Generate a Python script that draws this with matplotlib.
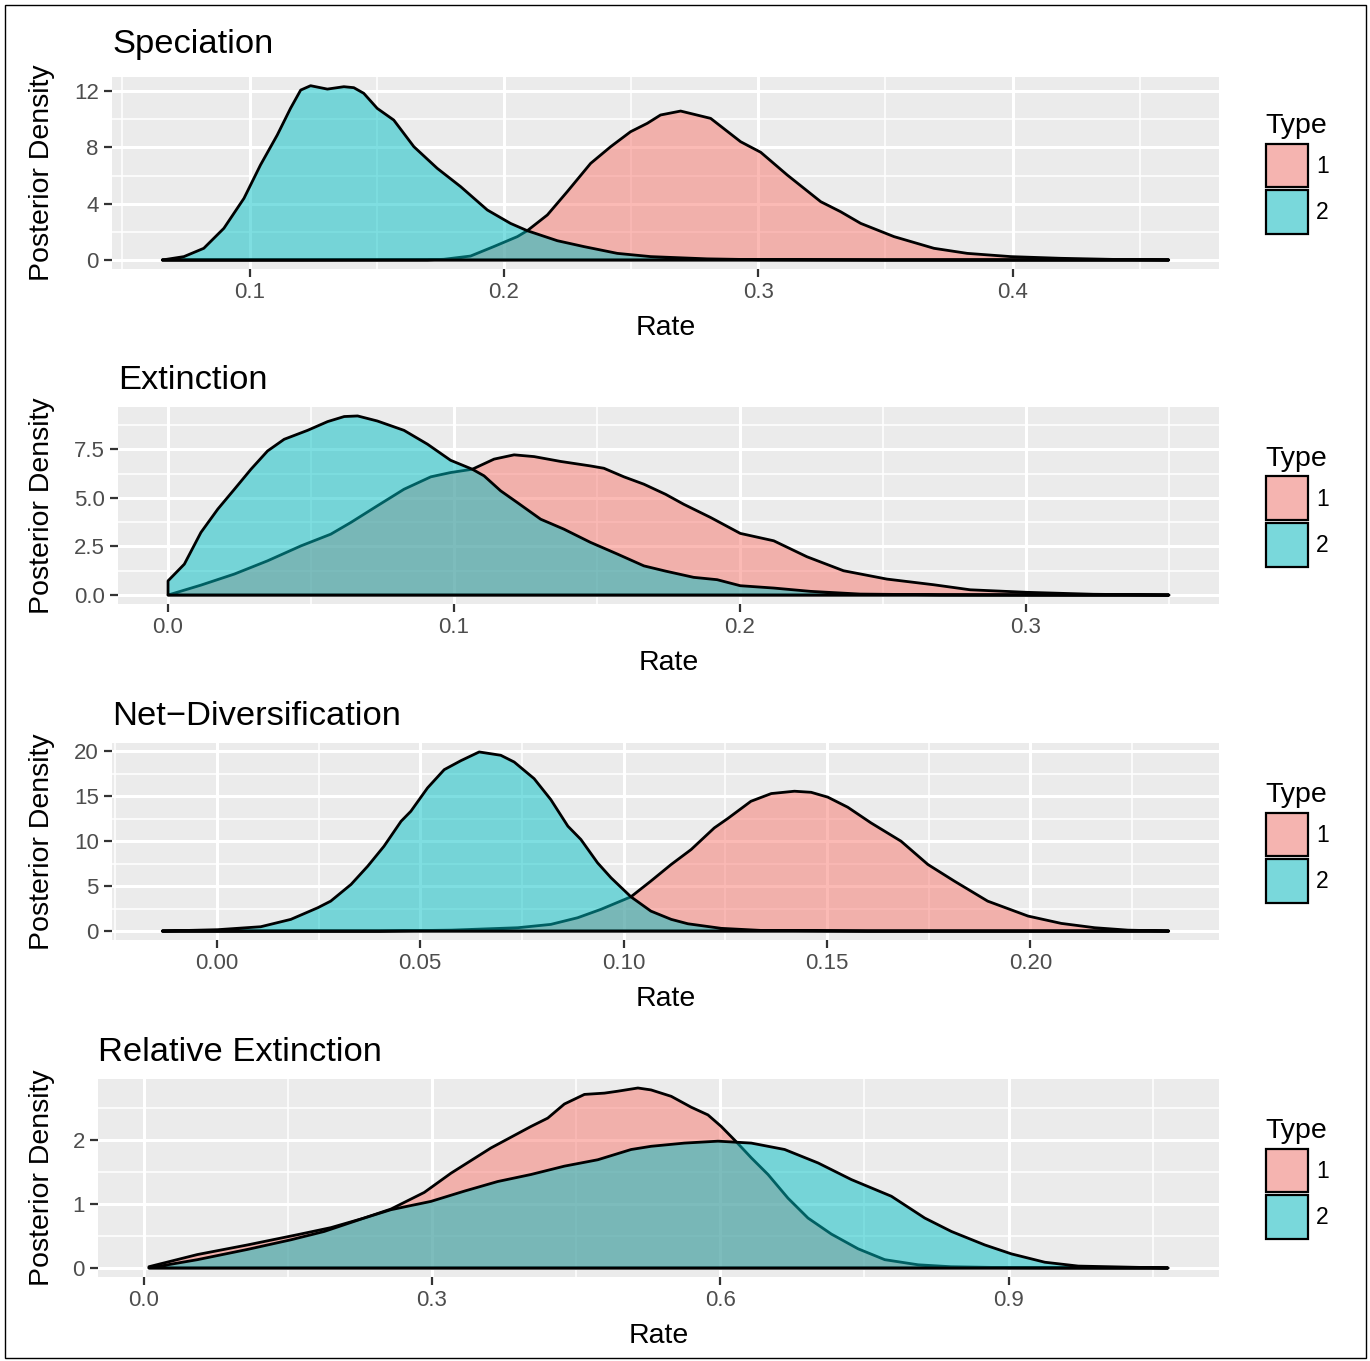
import matplotlib
matplotlib.use('Agg')
import matplotlib.pyplot as plt
from matplotlib.patches import Rectangle
from matplotlib.colors import to_rgba

plt.rcParams['font.family'] = ['Liberation Sans', 'DejaVu Sans']

# ---------------- data ----------------
titles = ["Speciation", "Extinction", "Net\u2212Diversification", "Relative Extinction"]
type_labels = ["1", "2"]

# Speciation
spec_x1 = [0.0657, 0.12, 0.17, 0.1764, 0.1869, 0.196, 0.2053, 0.2092, 0.2171, 0.2249, 0.2341, 0.242,
           0.2498, 0.2564, 0.2616, 0.2695, 0.2813, 0.2931, 0.301, 0.3114, 0.3246, 0.3324, 0.3403,
           0.3534, 0.3691, 0.3822, 0.3993, 0.4189, 0.44, 0.4614]
spec_y1 = [0, 0, 0.01, 0.05, 0.28, 0.95, 1.66, 2.08, 3.2, 4.85, 6.86, 8.05, 9.11, 9.71, 10.3, 10.58,
           10.06, 8.4, 7.65, 6.04, 4.14, 3.43, 2.60, 1.66, 0.83, 0.47, 0.24, 0.12, 0.04, 0]
spec_x2 = [0.0657, 0.0742, 0.082, 0.0899, 0.0978, 0.1043, 0.1109, 0.1161, 0.1201, 0.124, 0.1306,
           0.1371, 0.141, 0.1449, 0.1502, 0.1567, 0.1646, 0.1738, 0.183, 0.1935, 0.2026, 0.2092,
           0.221, 0.2315, 0.2446, 0.2577, 0.28, 0.30, 0.35, 0.4614]
spec_y2 = [0, 0.24, 0.83, 2.25, 4.38, 6.75, 8.88, 10.77, 12.07, 12.38, 12.14, 12.31, 12.24, 11.84,
           10.77, 9.94, 8.05, 6.51, 5.21, 3.55, 2.60, 2.08, 1.37, 0.95, 0.47, 0.24, 0.08, 0.02, 0.0, 0]

# Extinction
ext_x1 = [0.0, 0.0115, 0.0232, 0.0348, 0.0465, 0.0569, 0.0639, 0.0732, 0.0825, 0.0919, 0.0988,
          0.1064, 0.114, 0.121, 0.128, 0.1373, 0.1477, 0.1524, 0.1594, 0.1664, 0.1740, 0.1803,
          0.1897, 0.2001, 0.2118, 0.2234, 0.2362, 0.2514, 0.2677, 0.2805, 0.3003, 0.3235, 0.35]
ext_y1 = [0.0, 0.51, 1.08, 1.76, 2.53, 3.13, 3.73, 4.59, 5.44, 6.08, 6.30, 6.47, 6.99, 7.21, 7.12,
          6.87, 6.64, 6.52, 6.08, 5.70, 5.18, 4.67, 3.99, 3.17, 2.79, 1.97, 1.25, 0.82, 0.53, 0.27,
          0.14, 0.04, 0]
ext_x2 = [0.0, 0.0057, 0.0115, 0.0174, 0.0232, 0.029, 0.0348, 0.0406, 0.0488, 0.0558, 0.0616,
          0.0663, 0.0732, 0.0825, 0.0907, 0.0988, 0.1064, 0.1105, 0.1163, 0.1221, 0.1303, 0.1384,
          0.1477, 0.1571, 0.1664, 0.1740, 0.1838, 0.192, 0.2001, 0.2118, 0.2246, 0.242, 0.27, 0.35]
ext_y2 = [0.73, 1.59, 3.22, 4.42, 5.44, 6.47, 7.41, 8.01, 8.47, 8.92, 9.18, 9.21, 8.95, 8.47, 7.76,
          6.93, 6.47, 6.13, 5.36, 4.76, 3.90, 3.39, 2.71, 2.11, 1.50, 1.23, 0.91, 0.79, 0.48, 0.36,
          0.19, 0.05, 0.01, 0]

# Net-Diversification
net_x1 = [-0.0134, 0.04, 0.0576, 0.074, 0.0821, 0.0887, 0.0944, 0.1018, 0.1067, 0.1117, 0.1166,
          0.1223, 0.1256, 0.1313, 0.1363, 0.142, 0.1461, 0.1502, 0.1551, 0.1608, 0.1682, 0.1748,
          0.1813, 0.1895, 0.1994, 0.2076, 0.2158, 0.224, 0.234]
net_y1 = [0, 0.0, 0.1, 0.37, 0.74, 1.48, 2.41, 3.81, 5.56, 7.41, 9.07, 11.48, 12.52, 14.44, 15.3,
          15.56, 15.44, 14.9, 13.78, 12.04, 10.0, 7.41, 5.56, 3.33, 1.67, 0.85, 0.37, 0.1, 0]
net_x2 = [-0.0134, 0.0002, 0.0108, 0.0182, 0.0248, 0.028, 0.033, 0.0371, 0.0411, 0.0453, 0.0477,
          0.0518, 0.0559, 0.06, 0.0645, 0.0698, 0.0731, 0.078, 0.0821, 0.0863, 0.0895, 0.0936,
          0.0969, 0.1018, 0.1067, 0.1117, 0.1158, 0.124, 0.1338, 0.16, 0.234]
net_y2 = [0, 0.15, 0.48, 1.3, 2.59, 3.33, 5.19, 7.22, 9.44, 12.22, 13.33, 15.93, 17.96, 18.96, 19.93,
          19.56, 18.81, 16.96, 14.63, 11.67, 10.19, 7.59, 5.93, 3.81, 2.22, 1.30, 0.81, 0.3, 0.07,
          0.0, 0]

# Relative Extinction
rel_x1 = [0.0055, 0.0559, 0.108, 0.1601, 0.1948, 0.2295, 0.2573, 0.292, 0.3198, 0.3615, 0.4031,
          0.4205, 0.4378, 0.4587, 0.4795, 0.4934, 0.5143, 0.528, 0.549, 0.5698, 0.5872, 0.601,
          0.6167, 0.6323, 0.6497, 0.6705, 0.6913, 0.7156, 0.7434, 0.7712, 0.8059, 0.84, 0.9, 1.066]
rel_y1 = [0.02, 0.21, 0.36, 0.52, 0.63, 0.78, 0.92, 1.18, 1.48, 1.875, 2.21, 2.34, 2.56, 2.71, 2.73,
          2.76, 2.81, 2.78, 2.68, 2.51, 2.39, 2.21, 1.97, 1.72, 1.46, 1.09, 0.78, 0.53, 0.30, 0.13,
          0.05, 0.02, 0.005, 0]
rel_x2 = [0.0055, 0.0559, 0.108, 0.1531, 0.1878, 0.2295, 0.2573, 0.299, 0.3337, 0.3684, 0.4031,
          0.4378, 0.4726, 0.5073, 0.5281, 0.5628, 0.5976, 0.6323, 0.667, 0.7018, 0.7365, 0.7781,
          0.8128, 0.8406, 0.8753, 0.9031, 0.9378, 0.9726, 1.066]
rel_y2 = [0.0, 0.13, 0.29, 0.44, 0.57, 0.78, 0.91, 1.04, 1.20, 1.35, 1.46, 1.59, 1.69, 1.85, 1.90,
          1.95, 1.98, 1.95, 1.85, 1.64, 1.38, 1.12, 0.78, 0.57, 0.36, 0.22, 0.09, 0.03, 0]

# tick breaks and labels
spec_xt = [0.1, 0.2, 0.3, 0.4]; spec_xtl = ["0.1", "0.2", "0.3", "0.4"]
spec_xm = [0.05, 0.15, 0.25, 0.35, 0.45]
spec_yt = [0, 4, 8, 12]; spec_ytl = ["0", "4", "8", "12"]; spec_ym = [2, 6, 10]
ext_xt = [0.0, 0.1, 0.2, 0.3]; ext_xtl = ["0.0", "0.1", "0.2", "0.3"]
ext_xm = [0.05, 0.15, 0.25, 0.35]
ext_yt = [0, 2.5, 5.0, 7.5]; ext_ytl = ["0.0", "2.5", "5.0", "7.5"]; ext_ym = [1.25, 3.75, 6.25, 8.75]
net_xt = [0.0, 0.05, 0.10, 0.15, 0.20]; net_xtl = ["0.00", "0.05", "0.10", "0.15", "0.20"]
net_xm = [-0.025, 0.025, 0.075, 0.125, 0.175, 0.225]
net_yt = [0, 5, 10, 15, 20]; net_ytl = ["0", "5", "10", "15", "20"]; net_ym = [2.5, 7.5, 12.5, 17.5]
rel_xt = [0.0, 0.3, 0.6, 0.9]; rel_xtl = ["0.0", "0.3", "0.6", "0.9"]
rel_xm = [0.15, 0.45, 0.75, 1.05]
rel_yt = [0, 1, 2]; rel_ytl = ["0", "1", "2"]; rel_ym = [0.5, 1.5, 2.5]

# ---------------- layout / style ----------------
W, H = 1370, 1361
fig = plt.figure(figsize=(W / 100, H / 100), dpi=100)
fig.patch.set_facecolor('white')

def fx(px):
    return px / W

def fy(py):
    return 1 - py / H

COL1 = '#F8766D'
COL2 = '#00BFC4'
KEY1 = '#F5B4B0'
KEY2 = '#79D8DB'

panel_data = [
    (spec_x1, spec_y1, spec_x2, spec_y2, spec_xt, spec_xtl, spec_xm, spec_yt, spec_ytl, spec_ym),
    (ext_x1, ext_y1, ext_x2, ext_y2, ext_xt, ext_xtl, ext_xm, ext_yt, ext_ytl, ext_ym),
    (net_x1, net_y1, net_x2, net_y2, net_xt, net_xtl, net_xm, net_yt, net_ytl, net_ym),
    (rel_x1, rel_y1, rel_x2, rel_y2, rel_xt, rel_xtl, rel_xm, rel_yt, rel_ytl, rel_ym),
]
# panel boxes in pixels: left, top, right, bottom ; title baseline
boxes = [(112, 77, 1219, 268.7), (118, 407, 1219, 604), (112, 743, 1219, 940), (98, 1079, 1219, 1277)]
title_base = [53, 389, 725, 1061]

for i, (pd_, box) in enumerate(zip(panel_data, boxes)):
    x1, y1, x2, y2, xt, xtl, xm, yt, ytl, ym = pd_
    L, T, R, B = box
    ax = fig.add_axes([fx(L), fy(B), (R - L) / W, (B - T) / H])
    ax.set_facecolor('#EBEBEB')
    for s in ax.spines.values():
        s.set_visible(False)

    # density polygons (type 1 below type 2)
    for xs, ys, col in ((x1, y1, COL1), (x2, y2, COL2)):
        px = [xs[0]] + list(xs) + [xs[-1]]
        py = [0] + list(ys) + [0]
        ax.fill(px, py, facecolor=to_rgba(col, 0.5), edgecolor='black', linewidth=2.0,
                joinstyle='round', zorder=3)

    xmin = min(min(x1), min(x2)); xmax = max(max(x1), max(x2))
    ymax = max(max(y1), max(y2))
    xr = xmax - xmin
    ax.set_xlim(xmin - 0.05 * xr, xmax + 0.05 * xr)
    ax.set_ylim(-0.05 * ymax, 1.05 * ymax)

    ax.set_xticks(xt)
    ax.set_xticklabels(xtl)
    ax.set_xticks(xm, minor=True)
    ax.set_yticks(yt)
    ax.set_yticklabels(ytl)
    ax.set_yticks(ym, minor=True)
    ax.set_axisbelow(True)
    ax.grid(which='major', color='white', linewidth=2.2)
    ax.grid(which='minor', color='white', linewidth=1.1)
    ax.tick_params(which='major', length=5.5, width=1.6, color='#333333',
                   labelsize=16, labelcolor='#4D4D4D', pad=4)
    ax.tick_params(which='minor', length=0)

    # titles and axis labels
    fig.text(fx(L), fy(title_base[i]), titles[i], ha='left', va='baseline', fontsize=24.8,
             color='black')
    fig.text(fx((L + R) / 2), fy(B + 66), "Rate", ha='center', va='baseline', fontsize=20.5,
             color='black')
    fig.text(fx(42), fy((T + B) / 2), "Posterior Density", ha='center', va='center',
             rotation=90, fontsize=20.5, color='black')

    # legend
    c = (T + B) / 2
    fig.text(fx(1265), fy(c - 40), "Type", ha='left', va='baseline', fontsize=20.5, color='black')
    for k, (kc, lab, top, bot, ly) in enumerate(((KEY1, type_labels[0], c - 29, c + 14, c - 6),
                                                  (KEY2, type_labels[1], c + 17, c + 61, c + 40))):
        fig.patches.append(Rectangle((fx(1266), fy(bot)), (1308 - 1266) / W, (bot - top) / H,
                                     transform=fig.transFigure, facecolor=kc,
                                     edgecolor='black', linewidth=1.6))
        fig.text(fx(1316), fy(ly), lab, ha='left', va='center', fontsize=16.5, color='black')

# outer border
fig.patches.append(Rectangle((fx(5), fy(1358)), (1366 - 5) / W, (1358 - 5) / H,
                             transform=fig.transFigure, fill=False, edgecolor='black',
                             linewidth=1.0))

fig.savefig('out.png', dpi=100)
